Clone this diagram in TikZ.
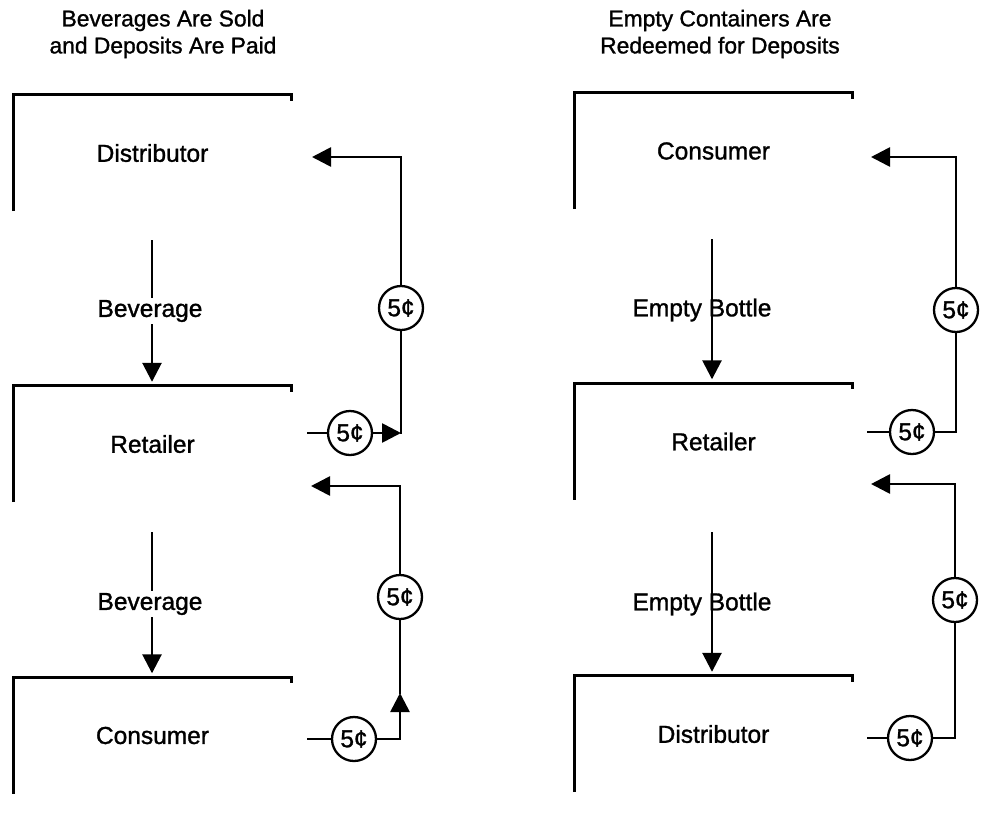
\documentclass[tikz,border=0pt]{standalone}
\usepackage{fontspec}
\setmainfont[FakeBold=1.2]{Liberation Sans}
\usetikzlibrary{arrows.meta}
\begin{document}
\begin{tikzpicture}[x=1pt,y=-1pt,
  every node/.style={font=\fontsize{24.5}{27.5}\selectfont},
  boxarea/.style={minimum width=277pt,minimum height=116pt,inner sep=0pt},
  bracket/.style={line width=3pt,line join=miter},
  flow/.style={line width=2.7pt,-{Triangle[length=19pt,width=19pt]}},
  wire/.style={line width=2.7pt,line cap=rect},
  coin/.style={circle,draw,line width=2.3pt,minimum size=44pt,inner sep=0pt},
  lbl/.style={fill=white,inner sep=2pt},
  plainlbl/.style={inner sep=2pt},
  title/.style={align=center,font=\fontsize{22.8}{27}\selectfont}
]
\useasboundingbox (0,0) rectangle (985,817);

% titles
\node[title] (t1) at (163,34) {Beverages Are Sold\\and Deposits Are Paid};
\node[title] (t2) at (720,34) {Empty Containers Are\\Redeemed for Deposits};

% left column boxes
\node[boxarea] (L1) at (152.5,153) {Distributor};
\node[boxarea] (L2) at (152.5,444) {Retailer};
\node[boxarea] (L3) at (152.5,735.5) {Consumer};
% right column boxes
\node[boxarea] (R1) at (713.5,151) {Consumer};
\node[boxarea] (R2) at (713.5,441.5) {Retailer};
\node[boxarea] (R3) at (713.5,734) {Distributor};

\foreach \b in {L1,L2,L3,R1,R2,R3}{
  \draw[bracket] (\b.south west) -- (\b.north west) -- (\b.north east) -- ++(0,6);
}

% goods arrows, left
\coordinate (a1) at (152,240);
\coordinate (a2) at (152,532);
\draw[flow,shorten >=4pt] (a1) -- (a1 |- L2.north);
\draw[flow,shorten >=4pt] (a2) -- (a2 |- L3.north);
\node[lbl] (g1) at (150,311) {Beverage};
\node[lbl] (g2) at (150,604) {Beverage};

% goods arrows, right
\coordinate (a3) at (712,239);
\coordinate (a4) at (712,532);
\draw[flow,shorten >=4pt] (a3) -- (a3 |- R2.north);
\draw[flow,shorten >=4pt] (a4) -- (a4 |- R3.north);
\node[plainlbl] (g3) at (702,310) {Empty Bottle};
\node[plainlbl] (g4) at (702,604) {Empty Bottle};

% money loop A: retailer -> distributor (left)
\coordinate (sA) at (308,433);
\node[coin] (cA1) at (350,433) {5¢};
\coordinate (kA) at (401,433);
\node[coin] (cA2) at (401,308) {5¢};
\coordinate (tA) at (312,157);
\draw[wire] (sA) -- (cA1);
\draw[flow] (cA1) -- (kA);
\draw[wire] (kA) -- (cA2);
\draw[flow] (cA2) |- (tA);

% money loop B: consumer -> retailer (left)
\coordinate (sB) at (308,739);
\node[coin] (cB1) at (354,739) {5¢};
\coordinate (kB) at (400,693);
\node[coin] (cB2) at (400,597) {5¢};
\coordinate (tB) at (311,486);
\draw[wire] (sB) -- (cB1);
\draw[flow] (cB1) -| (kB);
\draw[wire] (kB) -- (cB2);
\draw[flow] (cB2) |- (tB);

% money loop C: retailer -> consumer (right)
\coordinate (sC) at (868,432);
\node[coin] (cC1) at (912,432) {5¢};
\node[coin] (cC2) at (956,310) {5¢};
\coordinate (tC) at (871,157);
\draw[wire] (sC) -- (cC1);
\draw[wire] (cC1) -| (cC2);
\draw[flow] (cC2) |- (tC);

% money loop D: distributor -> retailer (right)
\coordinate (sD) at (868,738);
\node[coin] (cD1) at (910,738) {5¢};
\node[coin] (cD2) at (955,600) {5¢};
\coordinate (tD) at (871,484);
\draw[wire] (sD) -- (cD1);
\draw[wire] (cD1) -| (cD2);
\draw[flow] (cD2) |- (tD);
\end{tikzpicture}
\end{document}
